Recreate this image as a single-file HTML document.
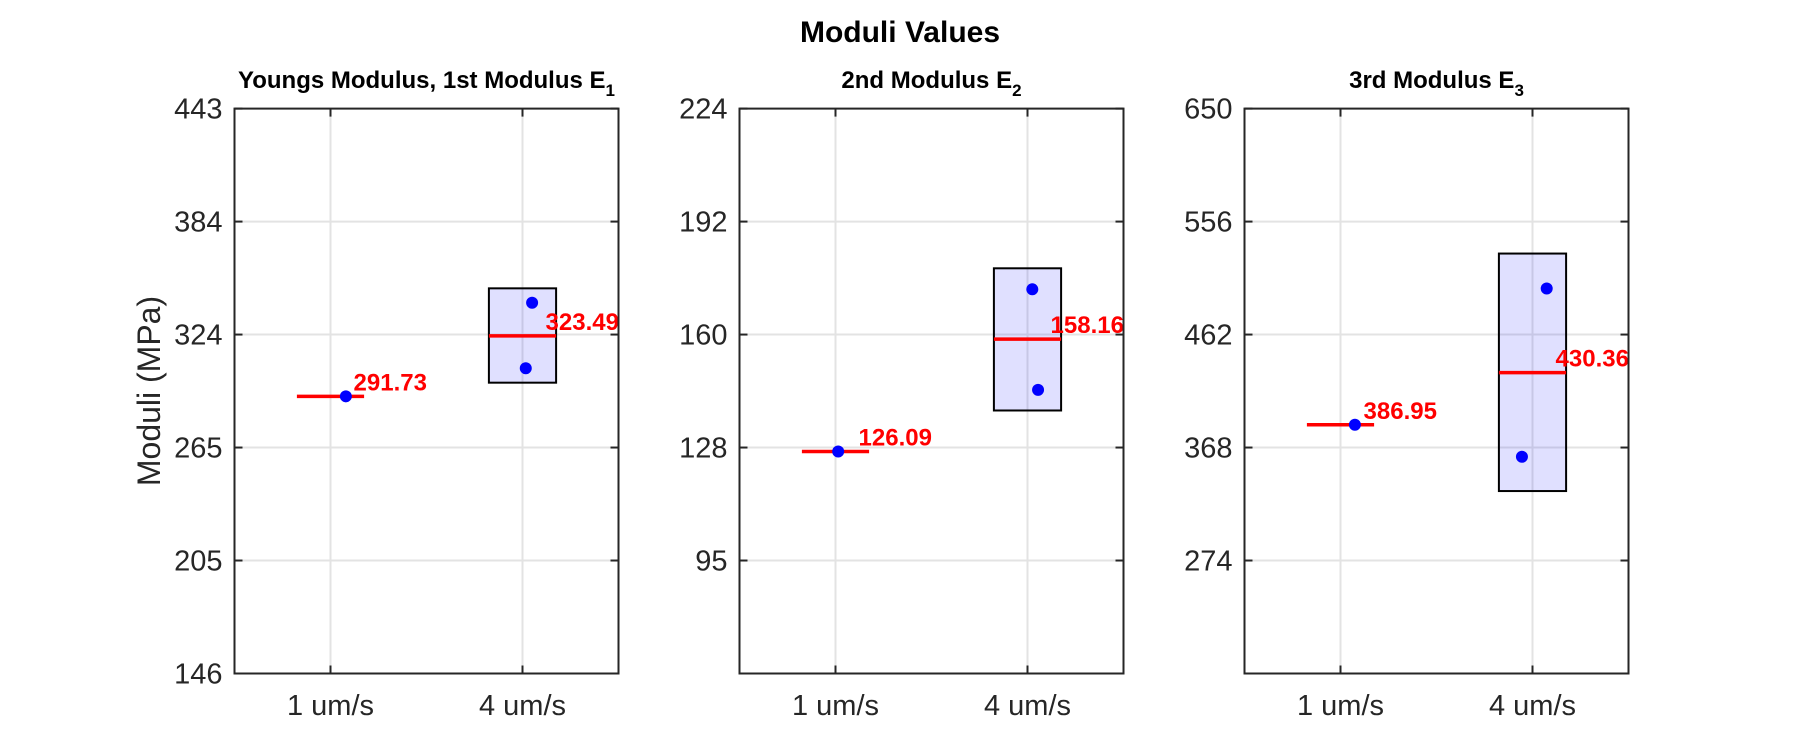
<!DOCTYPE html>
<html><head><meta charset="utf-8"><style>
html,body{margin:0;padding:0;background:#fff;}
svg{display:block;font-family:"Liberation Sans",Arial,sans-serif;}
</style></head><body>
<svg id="chart" width="1800" height="750" viewBox="0 0 1800 750">
<text x="900" y="42" text-anchor="middle" font-size="30" font-weight="bold" fill="#000">Moduli Values</text>
<text transform="translate(160,391) rotate(-90)" text-anchor="middle" font-size="32" fill="#262626">Moduli (MPa)</text>
</svg>
<script>
const categories = ["1 um/s", "4 um/s"];
const panelTitles = ["Youngs Modulus, 1st Modulus E", "2nd Modulus E", "3rd Modulus E"];
const panelSubs = ["1", "2", "3"];
const yMins = [146, 62.7, 180];
const yMaxs = [443, 224, 650];
const tickLabels1 = ["146", "205", "265", "324", "384", "443"];
const tickLabels2 = ["", "95", "128", "160", "192", "224"];
const tickLabels3 = ["", "274", "368", "462", "556", "650"];
const medians1 = [291.73, 323.49];
const medians2 = [126.09, 158.16];
const medians3 = [386.95, 430.36];
const boxLow = [298.9, 137.8, 331.8];
const boxHigh = [348.5, 178.4, 529.4];
const pts1Slow = [291.73]; const pts1Fast = [340.9, 306.5];
const pts2Slow = [126.09]; const pts2Fast = [172.4, 143.7];
const pts3Slow = [386.95]; const pts3Fast = [500.3, 360.3];
const jit1Fast = [0.05, 0.017]; const jit2Fast = [0.025, 0.055]; const jit3Fast = [0.074, -0.055];
const jitSlow = [0.08, 0.014, 0.075];

const NS = "http://www.w3.org/2000/svg";
const svg = document.getElementById("chart");
function mk(tag, attrs, parent) {
  const e = document.createElementNS(NS, tag);
  for (const k in attrs) e.setAttribute(k, attrs[k]);
  (parent || svg).appendChild(e);
  return e;
}
const lefts = [234.5, 739.5, 1244.5];
const W = 384, TOP = 108.6, BOT = 673.5;
const tickSets = [tickLabels1, tickLabels2, tickLabels3];
const medSets = [medians1, medians2, medians3];
const slowSets = [pts1Slow, pts2Slow, pts3Slow];
const fastSets = [pts1Fast, pts2Fast, pts3Fast];
const jitSets = [jit1Fast, jit2Fast, jit3Fast];

for (let p = 0; p < 3; p++) {
  const L = lefts[p];
  const g = mk("g", {});
  
  
  const xs = v => L + (v - 0.5) / 2 * W;
  const ys = v => BOT - (v - yMins[p]) / (yMaxs[p] - yMins[p]) * (BOT - TOP);
  const ticks = tickSets[p];
  for (let i = 0; i < ticks.length; i++) {
    const y = BOT - i / (ticks.length - 1) * (BOT - TOP);
    if (i > 0 && i < ticks.length - 1) {
      const gl = mk("line", {x1: L, x2: L + W, y1: y, y2: y, stroke: "#e3e3e3", "stroke-width": 2}, g);
      
      
    }
    mk("line", {x1: L, x2: L + 8, y1: y, y2: y, stroke: "#262626", "stroke-width": 2}, g);
    mk("line", {x1: L + W - 8, x2: L + W, y1: y, y2: y, stroke: "#262626", "stroke-width": 2}, g);
    if (ticks[i]) {
      const t = mk("text", {x: L - 12, y: y + 10, "text-anchor": "end", "font-size": 29, fill: "#262626"}, g);
      t.textContent = ticks[i];
      
      
    }
  }
  for (let c = 0; c < categories.length; c++) {
    const x = xs(c + 1);
    const gl = mk("line", {x1: x, x2: x, y1: TOP, y2: BOT, stroke: "#e3e3e3", "stroke-width": 2}, g);
    
    
    mk("line", {x1: x, x2: x, y1: BOT - 8, y2: BOT, stroke: "#262626", "stroke-width": 2}, g);
    mk("line", {x1: x, x2: x, y1: TOP, y2: TOP + 8, stroke: "#262626", "stroke-width": 2}, g);
    const t = mk("text", {x: x, y: 715, "text-anchor": "middle", "font-size": 29, fill: "#262626"}, g);
    t.textContent = categories[c];
    
    
  }
  const bx = xs(2 - 0.175), bw = xs(2 + 0.175) - bx;
  const box = mk("rect", {x: bx, y: ys(boxHigh[p]), width: bw, height: ys(boxLow[p]) - ys(boxHigh[p]), fill: "#0000ff", "fill-opacity": 0.12, stroke: "#000", "stroke-width": 2}, g);
  
  
  const meds = medSets[p];
  for (let c = 0; c < meds.length; c++) {
    const y = ys(meds[c]);
    const ml = mk("line", {x1: xs(c + 1 - 0.175), x2: xs(c + 1 + 0.175), y1: y, y2: y, stroke: "#ff0000", "stroke-width": 3.5}, g);
    
    
  }
  const slow = slowSets[p];
  for (let i = 0; i < slow.length; i++) {
    const d = mk("circle", {cx: xs(1 + jitSlow[p]), cy: ys(slow[i]), r: 6, fill: "#0000ff"}, g);
    
    
  }
  const fast = fastSets[p];
  for (let i = 0; i < fast.length; i++) {
    const d = mk("circle", {cx: xs(2 + jitSets[p][i]), cy: ys(fast[i]), r: 6, fill: "#0000ff"}, g);
    
    
  }
  for (let c = 0; c < meds.length; c++) {
    const t = mk("text", {x: xs(c + 1 + 0.12), y: ys(meds[c]) - 6, "font-size": 24, "font-weight": "bold", fill: "#ff0000"}, g);
    t.textContent = meds[c].toFixed(2);
    
    
  }
  const fr = mk("rect", {x: L, y: TOP, width: W, height: BOT - TOP, fill: "none", stroke: "#262626", "stroke-width": 2}, g);
  
  
  const tt = mk("text", {x: L + W / 2, y: 88, "text-anchor": "middle", "font-size": 24, "font-weight": "bold", fill: "#000"}, g);
  
  
  tt.appendChild(document.createTextNode(panelTitles[p]));
  const sub = mk("tspan", {"font-size": 17, dy: 8}, tt);
  sub.textContent = panelSubs[p];
}
</script>
</body></html>
